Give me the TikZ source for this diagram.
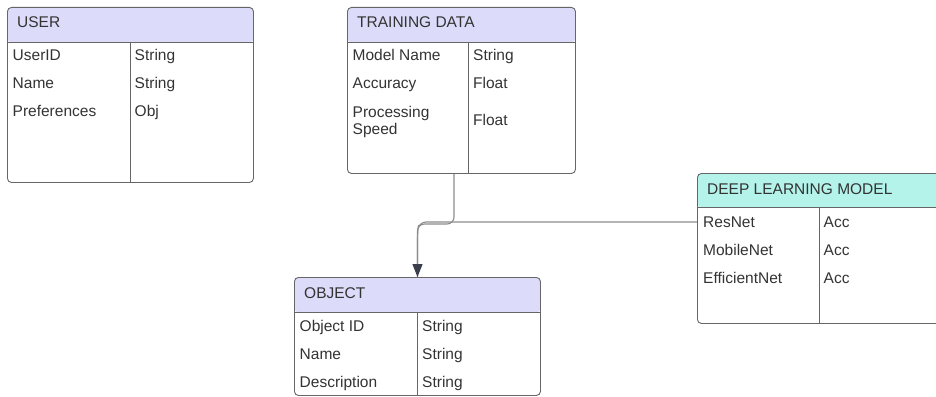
\documentclass[tikz,border=0pt]{standalone}
\usepackage{fontspec}
\setmainfont{Liberation Sans}
\usetikzlibrary{arrows.meta}
\definecolor{hdrlav}{HTML}{DCDCFA}
\definecolor{hdrteal}{HTML}{B3F3EA}
\definecolor{boxline}{HTML}{666666}
\definecolor{connline}{HTML}{8C8C8C}
\definecolor{tipcol}{HTML}{3B3F4C}
\definecolor{txt}{HTML}{333333}
\tikzset{
  entity/.style={draw=boxline, line width=0.9pt, rounded corners=4pt,
    inner sep=0pt, anchor=north west},
  lavhead/.style={path picture={\fill[hdrlav] (path picture bounding box.north west)
    rectangle ([yshift=-#1]path picture bounding box.north east);}},
  tealhead/.style={path picture={\fill[hdrteal] (path picture bounding box.north west)
    rectangle ([yshift=-#1]path picture bounding box.north east);}},
  rule/.style={draw=boxline, line width=0.9pt},
  cell/.style={anchor=base west, inner sep=0pt, text=txt, font=\fontsize{15.5pt}{17pt}\selectfont},
  conn/.style={draw=connline, line width=1.1pt, rounded corners=7pt},
  tip/.style={-{Triangle[length=13pt, width=10pt, color=tipcol]}}
}
\begin{document}
\begin{tikzpicture}[x=1pt, y=-1pt]
\useasboundingbox (0,0) rectangle (936,396);

% USER
\node[entity, lavhead=35pt, minimum width=246pt, minimum height=175pt] (user) at (7,7) {};
\draw[rule] (7,42) -- (253,42);
\draw[rule] (130,42) -- (130,182);
\node[cell] (userT) at (17,28) {USER};
\node[cell] (u1) at (12.5,60.5) {UserID};
\node[cell] (u1t) at (134.5,60.5) {String};
\node[cell] (u2) at (12.5,88.5) {Name};
\node[cell] (u2t) at (134.5,88.5) {String};
\node[cell] (u3) at (12.5,116.5) {Preferences};
\node[cell] (u3t) at (134.5,116.5) {Obj};

% TRAINING DATA
\node[entity, lavhead=35pt, minimum width=228pt, minimum height=166pt] (td) at (347,7) {};
\draw[rule] (347,42) -- (575,42);
\draw[rule] (468,42) -- (468,173);
\node[cell] (tdT) at (357,28) {TRAINING DATA};
\node[cell] (t1) at (352.5,60.5) {Model Name};
\node[cell] (t1t) at (473,60.5) {String};
\node[cell] (t2) at (352.5,88.5) {Accuracy};
\node[cell] (t2t) at (473,88.5) {Float};
\node[cell] (t3a) at (352.5,117) {Processing};
\node[cell] (t3b) at (352.5,134) {Speed};
\node[cell] (t3t) at (473,125) {Float};

% DEEP LEARNING MODEL
\node[entity, tealhead=34pt, minimum width=260pt, minimum height=150pt] (dl) at (697,173) {};
\draw[rule] (697,207) -- (957,207);
\draw[rule] (819,207) -- (819,323);
\node[cell] (dlT) at (707,194) {DEEP LEARNING MODEL};
\node[cell] (d1) at (703,227) {ResNet};
\node[cell] (d1t) at (823.5,227) {Acc};
\node[cell] (d2) at (703,255) {MobileNet};
\node[cell] (d2t) at (823.5,255) {Acc};
\node[cell] (d3) at (703,283) {EfficientNet};
\node[cell] (d3t) at (823.5,283) {Acc};

% OBJECT
\node[entity, lavhead=35pt, minimum width=246pt, minimum height=118pt] (obj) at (294,277) {};
\draw[rule] (294,312) -- (540,312);
\draw[rule] (417,312) -- (417,395);
\node[cell] (oT) at (304,298) {OBJECT};
\node[cell] (o1) at (299.5,331) {Object ID};
\node[cell] (o1t) at (422,331) {String};
\node[cell] (o2) at (299.5,359) {Name};
\node[cell] (o2t) at (422,359) {String};
\node[cell] (o3) at (299.5,387) {Description};
\node[cell] (o3t) at (422,387) {String};

% relations into OBJECT
\coordinate (tdout) at (td.south -| 454,0);
\coordinate (objin) at (obj.north -| 417.5,0);
\draw[conn] (tdout) -- (454,224) -- (417.5,224) -- (objin);
\draw[conn, tip] (dl.west |- 0,222) -- (419,222) -- (417.5,232) -- (objin);
\end{tikzpicture}
\end{document}
